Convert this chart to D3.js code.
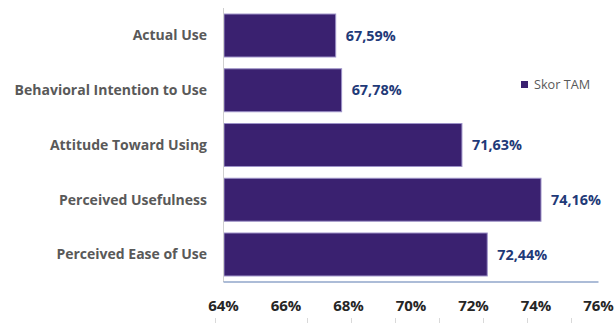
<!DOCTYPE html>
<html>
<head>
<meta charset="utf-8">
<script src="https://cdn.jsdelivr.net/npm/d3@7"></script>
<style>
  html, body { margin: 0; padding: 0; background: #fff; }
  svg { display: block; }
</style>
</head>
<body>
<svg id="chart" width="614" height="323"></svg>
<script>
const categories = ["Actual Use", "Behavioral Intention to Use", "Attitude Toward Using", "Perceived Usefulness", "Perceived Ease of Use"];
const values = [67.59, 67.78, 71.63, 74.16, 72.44];
const valueLabels = ["67,59%", "67,78%", "71,63%", "74,16%", "72,44%"];
const xTicks = [64, 66, 68, 70, 72, 74, 76];
const seriesName = "Skor TAM";

const svg = d3.select("#chart");
const font = "'Open Sans', Lato, sans-serif";

const x = d3.scaleLinear().domain([64, 76]).range([223.5, 598.5]);
const y = d3.scaleBand().domain(categories).range([8, 282]).paddingInner(0.215).paddingOuter(0.11);

// bars
svg.append("g").selectAll("rect").data(categories).join("rect")
  .attr("x", x(64) + 0.5)
  .attr("y", d => y(d))
  .attr("width", (d, i) => x(values[i]) - x(64) - 0.5)
  .attr("height", y.bandwidth())
  .attr("fill", "#3a2170")
  .attr("stroke", "#9d92c8")
  .attr("stroke-width", 1);

// vertical axis line
svg.append("line")
  .attr("x1", x(64)).attr("x2", x(64))
  .attr("y1", 8).attr("y2", 282)
  .attr("stroke", "#d0d0d0").attr("stroke-width", 1);

// bottom axis line
svg.append("line")
  .attr("x1", x(64)).attr("x2", x(76))
  .attr("y1", 282).attr("y2", 282)
  .attr("stroke", "#5b7bb0").attr("stroke-width", 1.2);

// category labels
svg.append("g").selectAll("text").data(categories).join("text")
  .attr("x", 207)
  .attr("y", d => y(d) + y.bandwidth() / 2)
  .attr("dy", "0.35em")
  .attr("text-anchor", "end")
  .attr("font-family", font)
  .attr("font-weight", "bold")
  .attr("font-size", 14)
  .attr("fill", "#595959")
  .text(d => d);

// value labels
svg.append("g").selectAll("text").data(categories).join("text")
  .attr("x", (d, i) => x(values[i]) + 10)
  .attr("y", d => y(d) + y.bandwidth() / 2)
  .attr("dy", "0.35em")
  .attr("font-family", font)
  .attr("font-weight", "bold")
  .attr("font-size", 14.4)
  .attr("fill", "#1f3a78")
  .text((d, i) => valueLabels[i]);

// x tick labels
svg.append("g").selectAll("text").data(xTicks).join("text")
  .attr("x", d => x(d))
  .attr("y", 306)
  .attr("dy", "0.35em")
  .attr("text-anchor", "middle")
  .attr("font-family", font)
  .attr("font-weight", "bold")
  .attr("font-size", 15)
  .attr("fill", "#262626")
  .text(d => d + "%");

// faint bottom ticks (below tick labels)
const bottomTickScale = d3.scaleLinear().domain([0, 6]).range([307, 571]);
const bottomTicks = [-2.1, 0, 1, 2, 3, 4, 5, 6];
svg.append("g").selectAll("line").data(bottomTicks).join("line")
  .attr("x1", d => Math.round(bottomTickScale(d)) + 0.5)
  .attr("x2", d => Math.round(bottomTickScale(d)) + 0.5)
  .attr("y1", 318).attr("y2", 323)
  .attr("stroke", "#d9d9d9").attr("stroke-width", 1);

// legend
const lg = svg.append("g").attr("transform", "translate(521,81)");
lg.append("rect").attr("width", 7).attr("height", 7).attr("fill", "#3a2170");
lg.append("text")
  .attr("x", 13).attr("y", 3.5).attr("dy", "0.35em")
  .attr("font-family", font)
  .attr("font-size", 12.7)
  .attr("fill", "#595959")
  .text(seriesName);
</script>
</body>
</html>
